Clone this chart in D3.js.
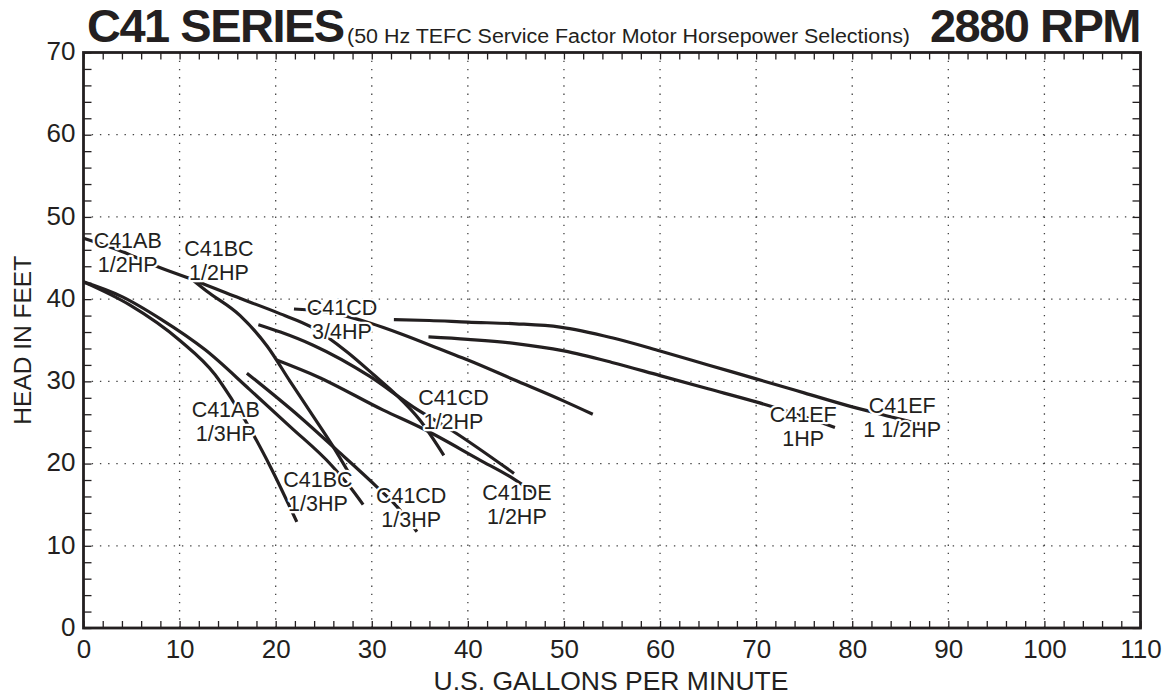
<!DOCTYPE html>
<html>
<head>
<meta charset="utf-8">
<script src="https://cdn.jsdelivr.net/npm/d3@7"></script>
<style>
  body { margin: 0; background: #fff; }
  text { font-family: "Liberation Sans", Arial, sans-serif; fill: #231f20; }
</style>
</head>
<body>
<svg width="1172" height="696"></svg>
<script>
// tick values
var xTicks = [0, 10, 20, 30, 40, 50, 60, 70, 80, 90, 100, 110];
var yTicks = [0, 10, 20, 30, 40, 50, 60, 70];

// pump curves, [gpm, feet]
var ab12 = [[0, 47.4], [4, 45.8], [7.6, 44.0], [11.3, 42.4], [15.6, 40.4], [20.3, 38.3], [23.9, 36.5],
            [27.4, 33.6], [30.2, 30.8], [32.6, 28.3], [35, 25.3], [37.5, 21.0]];
var bc12 = [[11.3, 42.4], [12.8, 41.0], [16.3, 38.0], [19.1, 34.3], [21.5, 30.0], [24, 25.6],
            [25.8, 22.4], [27.9, 18.3]];
var ab13 = [[0, 42.1], [4.8, 39.3], [10, 35.0], [13.7, 30.8], [15.5, 27.7], [16.8, 25.3],
            [19.5, 19.5], [22.2, 12.9]];
var bc13 = [[0, 42.1], [4, 40.3], [8, 37.6], [12.7, 33.8], [17.3, 29.0], [21.5, 24.5],
            [25.8, 19.8], [27.7, 17.2], [29.1, 15.0]];
var cd13 = [[17.0, 31.0], [22.5, 25.7], [26.4, 21.6], [30.5, 17.2], [32.6, 14.8], [34.7, 11.7]];
var cd12 = [[18.2, 36.9], [20.5, 36.0], [23.9, 34.4], [29.8, 30.6], [34.3, 26.9], [38.5, 23.9],
            [44.8, 18.8]];
var de12 = [[20.1, 32.6], [24.3, 30.6], [31.2, 26.5], [35.4, 24.2], [41.3, 20.4], [44.4, 18.4],
            [46.8, 16.5]];
var cd34 = [[21.9, 38.8], [26, 38.3], [29.8, 37.1], [33, 35.8], [37.8, 33.6], [40, 32.6],
            [44.8, 30.2], [50, 27.6], [53, 26.0]];
var ef1 = [[35.9, 35.4], [40, 35.1], [45, 34.6], [50, 33.7], [55, 32.3], [60, 30.7], [65, 29.1],
           [70, 27.5], [75, 25.7], [78.2, 24.4]];
var ef112 = [[32.3, 37.5], [36, 37.4], [40, 37.2], [45, 37.0], [49.6, 36.6], [55, 35.3], [60, 33.7],
             [65, 32.0], [70, 30.3], [75, 28.6], [80, 26.9], [84, 25.7], [87, 24.8]];

var curves = [ab12, bc12, ab13, bc13, cd13, cd12, de12, cd34, ef1, ef112];

// curve labels: model, motor, anchor [gpm, feet] of the first line
var labelModel = ["C41AB", "C41BC", "C41CD", "C41AB", "C41BC", "C41CD", "C41CD", "C41DE", "C41EF", "C41EF"];
var labelMotor = ["1/2HP", "1/2HP", "3/4HP", "1/3HP", "1/3HP", "1/3HP", "1/2HP", "1/2HP", "1HP", "1 1/2HP"];
var labelAt = [[4.6, 46.2], [14.1, 45.2], [26.9, 38.1], [14.8, 25.7], [24.4, 17.2], [34.1, 15.2],
               [38.5, 27.1], [45.1, 15.6], [74.9, 25.1], [85.2, 26.2]];

var svg = d3.select("svg");
var margin = { top: 52.5, right: 31.5, bottom: 68, left: 83.5 },
    width = 1172 - margin.left - margin.right,
    height = 696 - margin.top - margin.bottom;
var g = svg.append("g").attr("transform", "translate(" + margin.left + "," + margin.top + ")");

var x = d3.scaleLinear().domain([0, 110]).range([0, width]);
var y = d3.scaleLinear().domain([0, 70]).range([height, 0]);

var ink = "#231f20";

// dotted grid
g.append("g").selectAll("line")
    .data(xTicks.slice(1, -1))
    .enter().append("line")
    .attr("x1", function (d) { return x(d); })
    .attr("x2", function (d) { return x(d); })
    .attr("y1", 0).attr("y2", height)
    .attr("stroke", "#444").attr("stroke-width", 1.3)
    .attr("stroke-dasharray", "1.4,6.8");
g.append("g").selectAll("line")
    .data(yTicks.slice(1, -1))
    .enter().append("line")
    .attr("y1", function (d) { return y(d); })
    .attr("y2", function (d) { return y(d); })
    .attr("x1", 0).attr("x2", width)
    .attr("stroke", "#444").attr("stroke-width", 1.3)
    .attr("stroke-dasharray", "1.4,6.8");

// inward minor ticks on all four sides
var minorX = d3.range(0, 111, 2), minorY = d3.range(0, 71, 2);
function ticks(sel) {
    sel.select(".domain").remove();
    sel.selectAll("line").attr("stroke", ink).attr("stroke-width", 1.3);
}
g.append("g").attr("transform", "translate(0," + height + ")")
    .call(d3.axisBottom(x).tickValues(minorX).tickSize(-7).tickFormat("")).call(ticks);
g.append("g")
    .call(d3.axisTop(x).tickValues(minorX).tickSize(-7).tickFormat("")).call(ticks);
g.append("g")
    .call(d3.axisLeft(y).tickValues(minorY).tickSize(-8).tickFormat("")).call(ticks);
g.append("g").attr("transform", "translate(" + width + ",0)")
    .call(d3.axisRight(y).tickValues(minorY).tickSize(-8).tickFormat("")).call(ticks);

// tick labels
g.append("g").attr("transform", "translate(0," + height + ")")
    .call(d3.axisBottom(x).tickValues(xTicks).tickSize(0).tickPadding(12))
    .call(function (s) {
        s.select(".domain").remove();
        s.selectAll("text").attr("font-size", 26).attr("font-family", null).attr("fill", ink);
    });
g.append("g")
    .call(d3.axisLeft(y).tickValues(yTicks).tickSize(0).tickPadding(8))
    .call(function (s) {
        s.select(".domain").remove();
        s.selectAll("text").attr("font-size", 26).attr("font-family", null).attr("fill", ink)
            .attr("dy", "0.28em");
    });

// frame
g.append("rect")
    .attr("width", width).attr("height", height)
    .attr("fill", "none").attr("stroke", ink).attr("stroke-width", 2.8);

// curves
var line = d3.line()
    .x(function (d) { return x(d[0]); })
    .y(function (d) { return y(d[1]); })
    .curve(d3.curveMonotoneX);

g.append("g").selectAll("path")
    .data(curves)
    .enter().append("path")
    .attr("d", line)
    .attr("fill", "none")
    .attr("stroke", ink)
    .attr("stroke-width", 3.2)
    .attr("stroke-linecap", "butt");

// labels with white halo over the curves
var lab = g.append("g").selectAll("text")
    .data(labelModel)
    .enter().append("text")
    .attr("text-anchor", "middle")
    .attr("font-size", 21.5)
    .attr("stroke", "#fff").attr("stroke-width", 4.5)
    .attr("stroke-linejoin", "round")
    .attr("paint-order", "stroke")
    .attr("x", function (d, i) { return x(labelAt[i][0]); })
    .attr("y", function (d, i) { return y(labelAt[i][1]); });
lab.append("tspan").text(function (d) { return d; });
lab.append("tspan")
    .attr("x", function (d, i) { return x(labelAt[i][0]); })
    .attr("dy", 24)
    .text(function (d, i) { return labelMotor[i]; });

// axis titles
svg.append("text")
    .attr("transform", "translate(31," + (margin.top + height / 2) + ") rotate(-90)")
    .attr("text-anchor", "middle")
    .attr("font-size", 24.5)
    .text("HEAD IN FEET");
svg.append("text")
    .attr("x", 611).attr("y", 690)
    .attr("text-anchor", "middle")
    .attr("font-size", 26.5)
    .text("U.S. GALLONS PER MINUTE");

// heading
svg.append("text")
    .attr("x", 87).attr("y", 42)
    .attr("font-size", 47).attr("font-weight", "bold")
    .attr("letter-spacing", "-1.5px")
    .text("C41 SERIES");
svg.append("text")
    .attr("x", 347).attr("y", 43)
    .attr("font-size", 19.5)
    .attr("textLength", 563).attr("lengthAdjust", "spacingAndGlyphs")
    .text("(50 Hz TEFC Service Factor Motor Horsepower Selections)");
svg.append("text")
    .attr("x", 1140).attr("y", 42)
    .attr("text-anchor", "end")
    .attr("font-size", 47).attr("font-weight", "bold")
    .attr("letter-spacing", "-1.5px")
    .text("2880 RPM");
</script>
</body>
</html>
